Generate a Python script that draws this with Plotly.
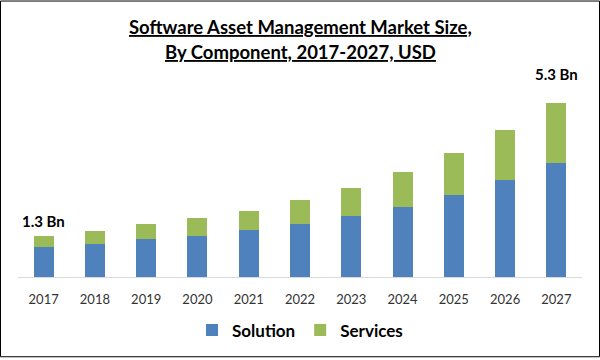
import plotly.graph_objects as go

years = ["2017", "2018", "2019", "2020", "2021", "2022", "2023", "2024", "2025", "2026", "2027"]
solution = [0.90, 0.99, 1.14, 1.26, 1.42, 1.60, 1.84, 2.14, 2.50, 2.95, 3.46]
services = [0.36, 0.42, 0.48, 0.54, 0.60, 0.75, 0.87, 1.05, 1.26, 1.51, 1.84]
end_labels = {"2017": "1.3 Bn", "2027": "5.3 Bn"}
label_shift = {"2017": 15, "2027": 29}

W, H = 600, 360
ML, MR, MT, MB = 18, 18, 60, 81
PW, PH = W - ML - MR, H - MT - MB
YMAX = 6.595
FONT = "Lato, Open Sans, sans-serif"

fig = go.Figure()
fig.add_trace(go.Bar(x=years, y=solution, name="<b>Solution</b>", marker_color="#4F81BD", marker_line_width=0))
fig.add_trace(go.Bar(x=years, y=services, name="<b>Services</b>", marker_color="#9BBB59", marker_line_width=0))

totals = [a + b for a, b in zip(solution, services)]
for yr, txt in end_labels.items():
    i = years.index(yr)
    fig.add_annotation(x=i, y=totals[i], text="<b>%s</b>" % txt, showarrow=False,
                       yshift=label_shift[yr], font=dict(family=FONT, size=15, color="#000000"))

fig.add_annotation(x=0.5, xref="paper", y=(H - 27 - MB) / PH, yref="paper", yanchor="middle",
                   text="<b><u>Software Asset Management Market Size,</u></b>", showarrow=False,
                   font=dict(family=FONT, size=18.5, color="#000000"))
fig.add_annotation(x=0.5, xref="paper", y=(H - 52 - MB) / PH, yref="paper", yanchor="middle",
                   text="<b><u>By Component, 2017-2027, USD</u></b>", showarrow=False,
                   font=dict(family=FONT, size=18.5, color="#000000"))

# outer frame
fig.add_shape(type="rect", xref="paper", yref="paper",
              x0=(-ML + 0.5) / PW, x1=(W - ML - 0.5) / PW,
              y0=(-MB + 0.5) / PH, y1=(H - MB - 0.5) / PH,
              line=dict(color="#000000", width=1), fillcolor="rgba(0,0,0,0)", layer="above")

fig.update_layout(
    width=W, height=H,
    margin=dict(l=ML, r=MR, t=MT, b=MB),
    barmode="stack", bargap=0.61,
    plot_bgcolor="white", paper_bgcolor="white",
    showlegend=True,
    legend=dict(orientation="h", x=0.5, xanchor="center", y=(H - 333 - MB) / PH, yanchor="middle",
                font=dict(family=FONT, size=17, color="#000000"),
                itemsizing="constant", traceorder="normal"),
    xaxis=dict(type="category", range=[-0.5, len(years) - 0.5], autorange=False,
               showgrid=False, showline=True, linecolor="#D9D9D9", linewidth=1,
               ticks="", ticklabelstandoff=10,
               tickfont=dict(family=FONT, size=13, color="#333333")),
    yaxis=dict(range=[0, YMAX], visible=False, showgrid=False),
)

fig.write_html("out.html", config={"displayModeBar": False},
               post_script="document.body.style.margin='0';document.body.style.overflow='hidden';")
